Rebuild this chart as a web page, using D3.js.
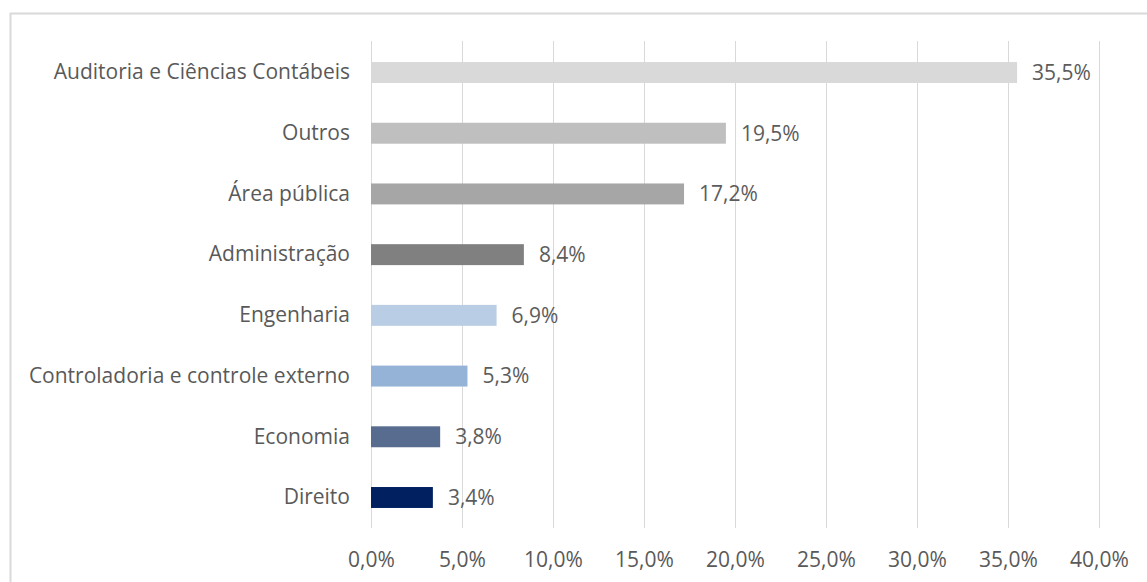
<!DOCTYPE html>
<html>
<head>
<meta charset="utf-8">
<script src="https://cdn.jsdelivr.net/npm/d3@7"></script>
<style>
  html, body { margin: 0; padding: 0; background: #fff; }
  svg { display: block; }
  text { font-family: "Open Sans", sans-serif; fill: #595959; }
</style>
</head>
<body>
<svg id="chart" width="1147" height="582"></svg>
<script>
const categories = ["Auditoria e Ciências Contábeis", "Outros", "Área pública", "Administração", "Engenharia", "Controladoria e controle externo", "Economia", "Direito"];
const values = [35.5, 19.5, 17.2, 8.4, 6.9, 5.3, 3.8, 3.4];
const barColors = ["#D9D9D9", "#BFBFBF", "#A6A6A6", "#808080", "#B9CDE5", "#95B3D7", "#576C8E", "#002060"];
const tickValues = [0, 5, 10, 15, 20, 25, 30, 35, 40];

const svg = d3.select("#chart");
const FONT = "'Open Sans', sans-serif";
const FS = 21;

// chart border
svg.append("rect")
  .attr("x", 10.5).attr("y", 13.5)
  .attr("width", 1147).attr("height", 600)
  .attr("fill", "#fff").attr("stroke", "#D9D9D9").attr("stroke-width", 2);

const x = d3.scaleLinear().domain([0, 40]).range([371, 1099]);
const y = d3.scaleBand().domain(categories).range([42, 528]).paddingInner(0.655).paddingOuter(0.33);

const fmt = v => d3.format(".1f")(v).replace(".", ",") + "%";

// gridlines
svg.append("g").selectAll("line").data(tickValues).join("line")
  .attr("x1", d => Math.round(x(d)) + 0.5).attr("x2", d => Math.round(x(d)) + 0.5)
  .attr("y1", 41).attr("y2", 528)
  .attr("stroke", "#D9D9D9").attr("stroke-width", 1);

// x axis labels
const xAxis = d3.axisBottom(x).tickValues(tickValues).tickSize(0).tickPadding(0).tickFormat(fmt);
const gx = svg.append("g").attr("transform", "translate(0,560)").call(xAxis);
gx.select(".domain").remove();
gx.selectAll("text").attr("font-size", FS).attr("dy", "0.35em").style("font-family", FONT).attr("fill", "#5c5c5c");

// y axis labels
const yAxis = d3.axisLeft(y).tickSize(0).tickPadding(0);
const gy = svg.append("g").attr("transform", "translate(350,0)").call(yAxis);
gy.select(".domain").remove();
gy.selectAll("text").attr("font-size", FS).style("font-family", FONT).attr("fill", "#5c5c5c");

// bars
svg.append("g").selectAll("rect").data(categories).join("rect")
  .attr("x", x(0))
  .attr("y", d => y(d))
  .attr("width", (d, i) => x(values[i]) - x(0))
  .attr("height", y.bandwidth())
  .attr("fill", (d, i) => barColors[i]);

// data labels
svg.append("g").selectAll("text").data(categories).join("text")
  .attr("x", (d, i) => x(values[i]) + 15)
  .attr("y", d => y(d) + y.bandwidth() / 2)
  .attr("dy", "0.35em")
  .attr("font-size", FS)
  .attr("fill", "#5c5c5c")
  .style("fill", "#5c5c5c")
  .text((d, i) => fmt(values[i]));
</script>
</body>
</html>
